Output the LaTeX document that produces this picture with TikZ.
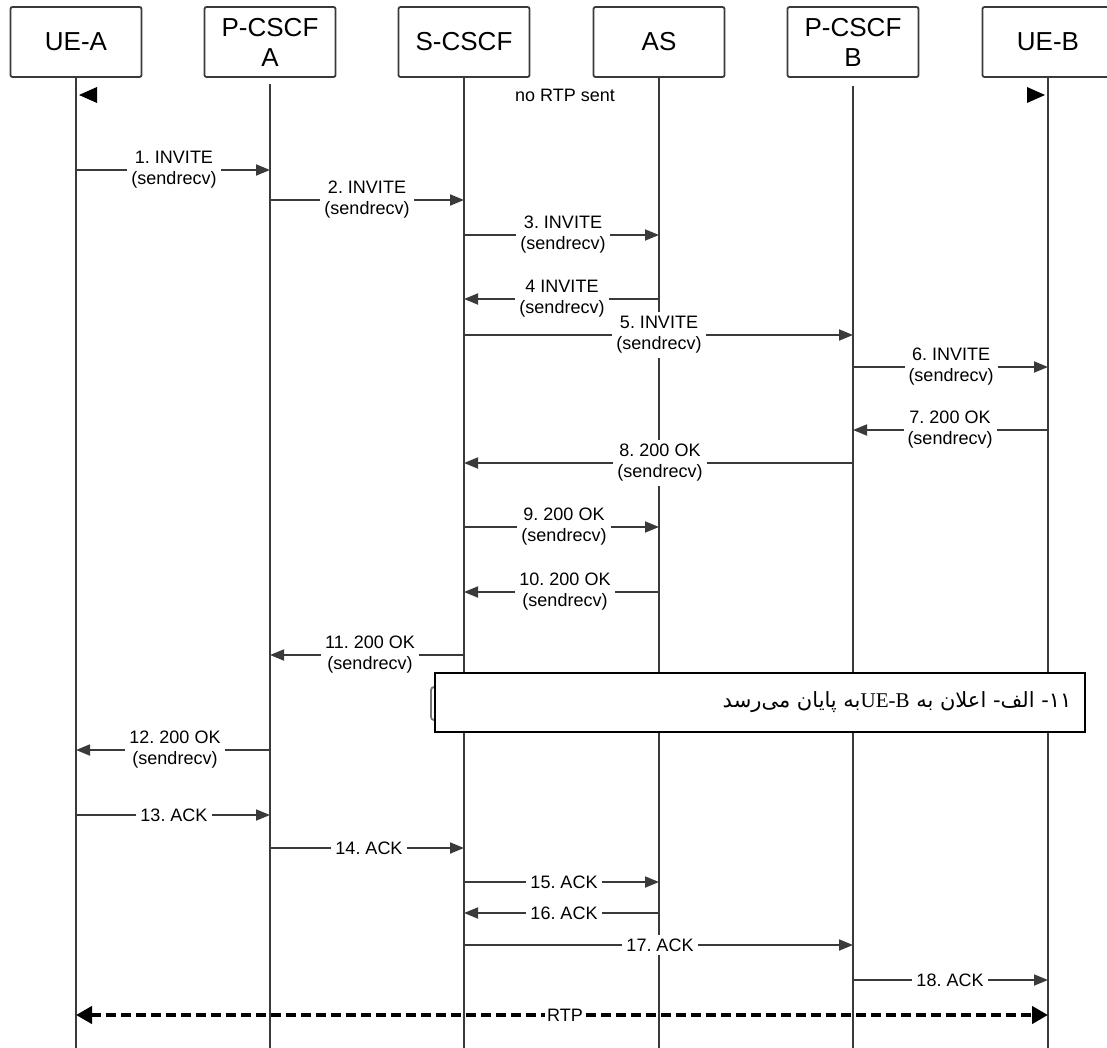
\documentclass[tikz,border=0pt]{standalone}
\usepackage{fontspec}
\setmainfont{Liberation Sans}
\newfontfamily\arabicfont[Script=Arabic]{DejaVu Sans}
\newfontfamily\latinserif{Liberation Serif}
\usepackage{tikz}
\usetikzlibrary{arrows.meta, positioning, calc}
\TeXXeTstate=1
\frenchspacing
\definecolor{linegray}{HTML}{3A3A3A}

\begin{document}
\begin{tikzpicture}[x=1pt, y=-1pt,
    >={Triangle[length=14pt, width=11pt]},
    entity/.style={draw=linegray, line width=1.8pt, rounded corners=2pt, fill=white, minimum width=131pt, minimum height=70pt, align=center, font=\fontsize{26}{30}\selectfont},
    life/.style={draw=linegray, line width=1.8pt},
    msg/.style={->, draw=linegray, line width=1.8pt},
    lbl/.style={fill=white, inner xsep=4pt, inner ysep=4pt, align=center, font=\fontsize{18}{21}\selectfont},
    rtp/.style={{Triangle[length=16pt, width=17pt]}-{Triangle[length=16pt, width=17pt]}, line width=4pt, dash pattern=on 10pt off 5pt},
    notebox/.style={draw, line width=1.2pt, fill=white, minimum width=650pt, minimum height=59pt},
    notetxt/.style={inner sep=0pt, font=\fontsize{21}{24}\selectfont},
]
    \useasboundingbox (0,0) rectangle (1107,1048);

    % Entities
    \node[entity] (uea) at (76,42) {UE-A};
    \node[entity] (pcscfa) at (270,42) {P-CSCF\\A};
    \node[entity] (scscf) at (464,42) {S-CSCF};
    \node[entity] (as) at (659,42) {AS};
    \node[entity] (pcscfb) at (853,42) {P-CSCF\\B};
    \node[entity] (ueb) at (1048,42) {UE-B};

    % Lifelines
    \draw[life] (uea.south) -- (uea |- 0,1048);
    \draw[life] ([yshift=-6pt]pcscfa.south) -- (pcscfa |- 0,1048);
    \draw[life] (scscf.south) -- (scscf |- 0,1048);
    \draw[life] (as.south) -- (as |- 0,1048);
    \draw[life] ([yshift=-8pt]pcscfb.south) -- (pcscfb |- 0,1048);
    \draw[life] (ueb.south) -- (ueb |- 0,1048);

    % No media yet
    \node[lbl] (nortp) at (565,95) {no RTP sent};
    \fill ($(uea |- 0,95)+(3,0)$) -- ++(18,-8) -- ++(0,16) -- cycle;
    \fill ($(ueb |- 0,95)+(-3,0)$) -- ++(-18,-8) -- ++(0,16) -- cycle;

    % Signalling
    \foreach \y/\a/\b/\lx/\txt [count=\i] in {
        170/uea/pcscfa/174/{1. INVITE\\(sendrecv)},
        200/pcscfa/scscf/367/{2. INVITE\\(sendrecv)},
        235/scscf/as/563/{3. INVITE\\(sendrecv)},
        299/as/scscf/562/{4 INVITE\\(sendrecv)},
        335/scscf/pcscfb/659/{5. INVITE\\(sendrecv)},
        367/pcscfb/ueb/951/{6. INVITE\\(sendrecv)},
        430/ueb/pcscfb/950/{7. 200 OK\\(sendrecv)},
        463/pcscfb/scscf/660/{8. 200 OK\\(sendrecv)},
        527/scscf/as/564/{9. 200 OK\\(sendrecv)},
        592/as/scscf/565/{10. 200 OK\\(sendrecv)},
        655/scscf/pcscfa/370/{11. 200 OK\\(sendrecv)},
        750/pcscfa/uea/175/{12. 200 OK\\(sendrecv)},
        815/uea/pcscfa/174/{13. ACK},
        848/pcscfa/scscf/369/{14. ACK},
        882/scscf/as/564/{15. ACK},
        913/as/scscf/564/{16. ACK},
        945/scscf/pcscfb/660/{17. ACK},
        980/pcscfb/ueb/950/{18. ACK}} {
        \draw[msg] (\a |- 0,\y) -- (\b |- 0,\y);
        \node[lbl] (msg\i) at (\lx,\y) {\txt};
    }

    % Note over the flow
    \draw[black!55, line width=1.8pt, rounded corners=3pt] (431,687) rectangle (480,720);
    \node[notebox] (note) at (760,702.5) {};
    \node[notetxt, anchor=east] (notetext) at ($(note.east)+(-14,0)$) {\arabicfont\beginR ١١- الف- اعلان به \beginL{\latinserif UE-B}\endL{}به پایان می‌رسد\endR};

    % Media
    \draw[rtp] (uea |- 0,1015) -- (ueb |- 0,1015);
    \node[lbl, inner xsep=2pt, inner ysep=0pt] (rtplbl) at (565,1015) {RTP};

\end{tikzpicture}
\end{document}
